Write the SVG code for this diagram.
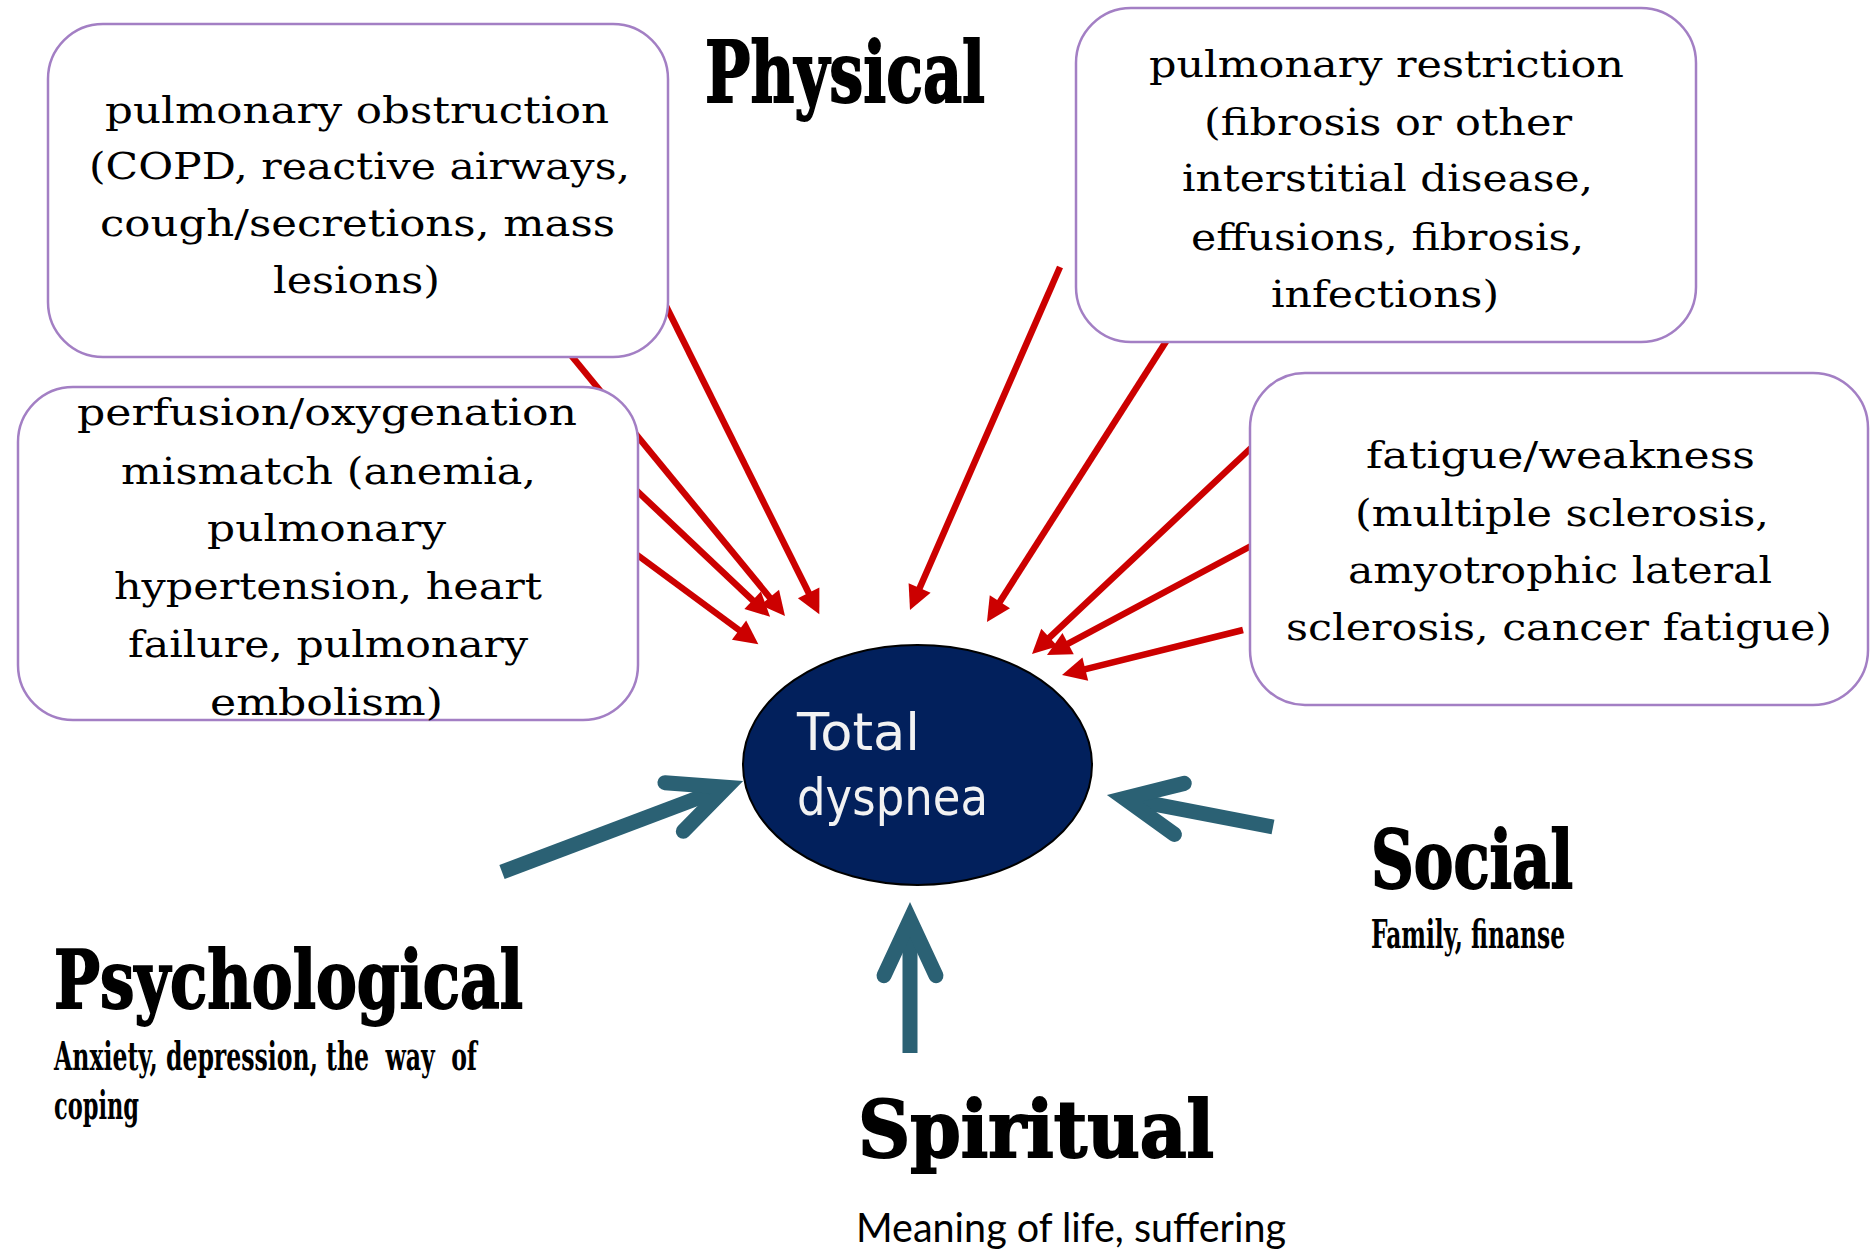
<svg xmlns="http://www.w3.org/2000/svg" width="1870" height="1251" viewBox="0 0 1870 1251">
<style>
.box{fill:#ffffff;stroke:#a37fc4;stroke-width:2.5}
.bt{font-family:"DejaVu Serif","Liberation Serif",serif;font-size:38px;fill:#000}
.head{font-family:"DejaVu Serif Condensed","DejaVu Serif",serif;font-weight:bold;fill:#000;stroke:#000;stroke-width:1.8}
.sub{font-family:"DejaVu Serif Condensed","DejaVu Serif",serif;font-size:40px;font-weight:bold;fill:#000}
.red{stroke:#cc0000;stroke-width:6.5;fill:none;marker-end:url(#rh)}
.teal{stroke:#2b6174;stroke-width:15;fill:none;stroke-linecap:butt;marker-end:url(#th)}
.td{font-family:"DejaVu Sans","Noto Sans",sans-serif;font-size:52px;fill:#f2f2f2}
</style>
<defs>
<marker id="rh" markerUnits="userSpaceOnUse" markerWidth="30" markerHeight="30" refX="10" refY="12" orient="auto" overflow="visible">
<path d="M0,0 L24,12 L0,24 Z" fill="#cc0000"/>
</marker>
<marker id="th" markerUnits="userSpaceOnUse" markerWidth="100" markerHeight="100" refX="0" refY="0" orient="auto" overflow="visible">
<path d="M-56,-26 L0,0 L-56,26" fill="none" stroke="#2b6174" stroke-width="15" stroke-linecap="round" stroke-linejoin="miter" stroke-miterlimit="6"/>
</marker>
</defs>
<rect width="1870" height="1251" fill="#ffffff"/>
<g id="connectors">
<line class="red" x1="570" y1="354" x2="776.1" y2="605.2"/>
<line class="red" x1="636" y1="490" x2="759.9" y2="607.1"/>
<line class="red" x1="636" y1="554" x2="747.1" y2="636"/>
<line class="red" x1="666" y1="306" x2="813.1" y2="601.8"/>
<line class="red" x1="1060" y1="267" x2="915.6" y2="597.2"/>
<line class="red" x1="1167" y1="340" x2="994.5" y2="610.2"/>
<line class="red" x1="1251" y1="448" x2="1042.2" y2="644.4"/>
<line class="red" x1="1251" y1="546" x2="1059.3" y2="648.4"/>
<line class="red" x1="1243" y1="630" x2="1075.6" y2="671.6"/>
<line class="teal" x1="502" y1="872" x2="726.5" y2="787.2"/>
<line class="teal" x1="1273" y1="827" x2="1124.4" y2="798.3"/>
<line class="teal" x1="910" y1="1053" x2="910" y2="919.7"/>
</g>
<g id="box-obstruction">
<rect class="box" x="48" y="24" width="620" height="333" rx="55" ry="55"/>
<text class="bt" x="105" y="123" textLength="504" lengthAdjust="spacingAndGlyphs">pulmonary obstruction</text>
<text class="bt" x="89" y="179" textLength="541" lengthAdjust="spacingAndGlyphs">(COPD, reactive airways,</text>
<text class="bt" x="100" y="236" textLength="515" lengthAdjust="spacingAndGlyphs">cough/secretions, mass</text>
<text class="bt" x="273" y="293" textLength="167" lengthAdjust="spacingAndGlyphs">lesions)</text>
</g>
<g id="box-perfusion">
<rect class="box" x="18" y="387" width="620" height="333" rx="55" ry="55"/>
<text class="bt" x="77" y="425" textLength="500" lengthAdjust="spacingAndGlyphs">perfusion/oxygenation</text>
<text class="bt" x="121" y="484" textLength="415" lengthAdjust="spacingAndGlyphs">mismatch (anemia,</text>
<text class="bt" x="207" y="541" textLength="239" lengthAdjust="spacingAndGlyphs">pulmonary</text>
<text class="bt" x="114" y="599" textLength="428" lengthAdjust="spacingAndGlyphs">hypertension, heart</text>
<text class="bt" x="128" y="657" textLength="400" lengthAdjust="spacingAndGlyphs">failure, pulmonary</text>
<text class="bt" x="210" y="715" textLength="233" lengthAdjust="spacingAndGlyphs">embolism)</text>
</g>
<g id="box-restriction">
<rect class="box" x="1076" y="8" width="620" height="334" rx="55" ry="55"/>
<text class="bt" x="1149" y="77" textLength="475" lengthAdjust="spacingAndGlyphs">pulmonary restriction</text>
<text class="bt" x="1204" y="135" textLength="368" lengthAdjust="spacingAndGlyphs">(fibrosis or other</text>
<text class="bt" x="1182" y="191" textLength="411" lengthAdjust="spacingAndGlyphs">interstitial disease,</text>
<text class="bt" x="1191" y="250" textLength="393" lengthAdjust="spacingAndGlyphs">effusions, fibrosis,</text>
<text class="bt" x="1271" y="307" textLength="228" lengthAdjust="spacingAndGlyphs">infections)</text>
</g>
<g id="box-fatigue">
<rect class="box" x="1250" y="373" width="618" height="332" rx="55" ry="55"/>
<text class="bt" x="1366" y="468" textLength="389" lengthAdjust="spacingAndGlyphs">fatigue/weakness</text>
<text class="bt" x="1355" y="526" textLength="414" lengthAdjust="spacingAndGlyphs">(multiple sclerosis,</text>
<text class="bt" x="1348" y="583" textLength="424" lengthAdjust="spacingAndGlyphs">amyotrophic lateral</text>
<text class="bt" x="1286" y="640" textLength="546" lengthAdjust="spacingAndGlyphs">sclerosis, cancer fatigue)</text>
</g>
<g id="node-total">
<ellipse cx="917.5" cy="765" rx="174.5" ry="120" fill="#02205c" stroke="#000" stroke-width="2"/>
<text class="td" x="797" y="750" textLength="123" lengthAdjust="spacingAndGlyphs">Total</text>
<text class="td" x="797" y="815" textLength="191" lengthAdjust="spacingAndGlyphs">dyspnea</text>
</g>
<g id="label-physical">
<text class="head" x="705" y="102" font-size="84" textLength="280" lengthAdjust="spacingAndGlyphs">Physical</text>
</g>
<g id="label-psychological">
<text class="head" x="54" y="1008" font-size="80" textLength="469" lengthAdjust="spacingAndGlyphs">Psychological</text>
<text class="sub" x="54" y="1070" textLength="423" lengthAdjust="spacingAndGlyphs" xml:space="preserve">Anxiety, depression, the  way  of</text>
<text class="sub" x="54" y="1119" textLength="85" lengthAdjust="spacingAndGlyphs">coping</text>
</g>
<g id="label-social">
<text class="head" x="1371" y="888" font-size="80" textLength="202" lengthAdjust="spacingAndGlyphs">Social</text>
<text class="sub" x="1371" y="948" textLength="194" lengthAdjust="spacingAndGlyphs">Family, finanse</text>
</g>
<g id="label-spiritual">
<text class="head" x="858" y="1157" font-size="78" textLength="356" lengthAdjust="spacingAndGlyphs">Spiritual</text>
<text x="856" y="1242" font-family="Lato,'Open Sans',sans-serif" font-size="40" fill="#000" textLength="430" lengthAdjust="spacingAndGlyphs">Meaning of life, suffering</text>
</g>
</svg>
